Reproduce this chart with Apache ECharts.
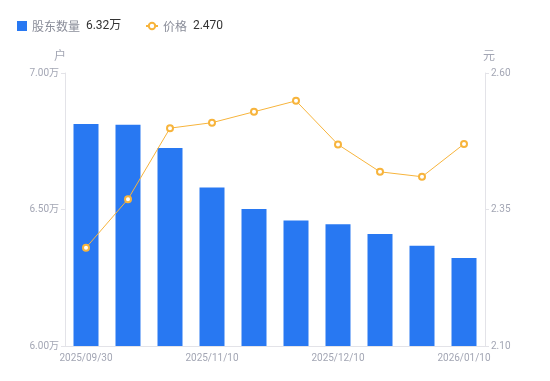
<!DOCTYPE html>
<html><head><meta charset="utf-8">
<script src="https://cdn.jsdelivr.net/npm/echarts@6/dist/echarts.min.js"></script>
<style>html,body{margin:0;padding:0;background:#fff}#c{width:550px;height:381px}</style>
</head><body><div id="c"></div>
<script>
var categories = ['2025/09/30','2025/10/20','2025/10/31','2025/11/10','2025/11/20','2025/11/28','2025/12/10','2025/12/19','2025/12/31','2026/01/10'];
var holders = [6.813, 6.810, 6.725, 6.581, 6.502, 6.460, 6.446, 6.410, 6.367, 6.322];
var prices = [2.280, 2.369, 2.499, 2.509, 2.529, 2.549, 2.469, 2.419, 2.410, 2.470];
var leftTicks = { min: 6.0, max: 7.0, interval: 0.5 };
var rightTicks = { min: 2.10, max: 2.60, interval: 0.25 };

var chart = echarts.init(document.getElementById('c'));
var axisLabelStyle = { color: '#a3a6b4', fontSize: 10, fontFamily: 'Roboto, "Noto Sans CJK SC", sans-serif' };
var lastH = holders[holders.length - 1], lastP = prices[prices.length - 1];
var legendRich = {
  n: { color: '#8a8d99', fontSize: 12, fontFamily: '"Noto Sans CJK SC", sans-serif' },
  v: { color: '#333', fontSize: 12, fontFamily: 'Roboto, "Noto Sans CJK SC", sans-serif' }
};
function legendFmt(n) {
  if (n === '股东数量') return '{n|' + n + '}  {v|' + lastH.toFixed(2) + '万}';
  return '{n|' + n + '}  {v|' + lastP.toFixed(3) + '}';
}
chart.setOption({
  animation: false,
  textStyle: { fontFamily: 'Roboto, "Noto Sans CJK SC", sans-serif' },
  legend: [
    {
      left: 12, top: 15, itemWidth: 10, itemHeight: 10,
      data: [{ name: '股东数量', icon: 'rect' }],
      formatter: legendFmt, textStyle: { rich: legendRich }
    },
    {
      left: 140, top: 15, itemWidth: 12, itemHeight: 8,
      data: [{ name: '价格' }],
      formatter: legendFmt, textStyle: { rich: legendRich }
    }
  ],
  grid: { left: 65, right: 65, top: 73, bottom: 35 },
  xAxis: {
    type: 'category', data: categories,
    axisLine: { show: true, lineStyle: { color: '#e3e3e8' } },
    axisTick: { show: false },
    axisLabel: Object.assign({ interval: 2, margin: 7 }, axisLabelStyle)
  },
  yAxis: [
    {
      type: 'value', name: '户', min: leftTicks.min, max: leftTicks.max, interval: leftTicks.interval,
      nameTextStyle: { color: '#a3a6b4', fontSize: 12, padding: [0, 10, 0, 0] }, nameGap: 10,
      axisLine: { show: true, lineStyle: { color: '#e3e3e8' } },
      axisTick: { show: true, length: 4, lineStyle: { color: '#e3e3e8' } },
      splitLine: { show: false },
      axisLabel: Object.assign({ margin: 6, formatter: function (v) { return v.toFixed(2) + '万'; } }, axisLabelStyle)
    },
    {
      type: 'value', name: '元', min: rightTicks.min, max: rightTicks.max, interval: rightTicks.interval,
      nameTextStyle: { color: '#a3a6b4', fontSize: 12, padding: [0, 0, 0, 8] }, nameGap: 10,
      axisLine: { show: true, lineStyle: { color: '#e3e3e8' } },
      axisTick: { show: true, length: 4, lineStyle: { color: '#e3e3e8' } },
      splitLine: { show: false },
      axisLabel: Object.assign({ margin: 6, formatter: function (v) { return v.toFixed(2); } }, axisLabelStyle)
    }
  ],
  series: [
    {
      name: '股东数量', type: 'bar', data: holders, barWidth: 25, yAxisIndex: 0,
      itemStyle: { color: '#2878f2' }
    },
    {
      name: '价格', type: 'line', data: prices, yAxisIndex: 1,
      symbol: 'emptyCircle', symbolSize: 6,
      lineStyle: { color: '#f7b43c', width: 1 },
      itemStyle: { color: '#f7b43c', borderWidth: 2 }
    }
  ]
});
</script></body></html>
